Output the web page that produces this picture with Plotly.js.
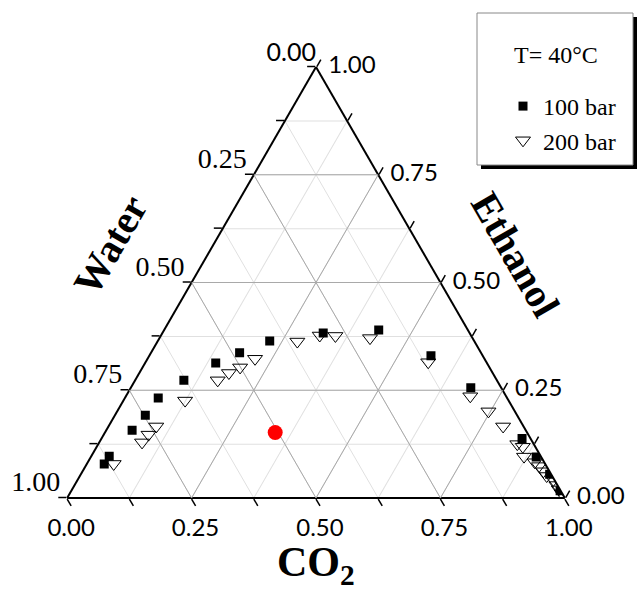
<!DOCTYPE html>
<html>
<head>
<meta charset="utf-8">
<script src="https://cdn.plot.ly/plotly-3.0.1.min.js"></script>
<style>html,body{margin:0;padding:0;background:#fff;}#chart{width:637px;height:590px;}</style>
</head>
<body>
<div id="chart"></div>
<script>
// ---- data (mole fractions) ----
const ethanol100 = [0.079, 0.097, 0.157, 0.192, 0.232, 0.273, 0.313, 0.337, 0.364, 0.383, 0.390, 0.330, 0.256, 0.138, 0.095, 0.055, 0.017];
const co2_100    = [0.035, 0.036, 0.052, 0.061, 0.067, 0.098, 0.142, 0.178, 0.225, 0.323, 0.431, 0.566, 0.683, 0.845, 0.895, 0.942, 0.982];
const water100   = [0.886, 0.867, 0.791, 0.747, 0.701, 0.629, 0.545, 0.485, 0.411, 0.294, 0.179, 0.104, 0.061, 0.017, 0.010, 0.003, 0.001];

const ethanol200 = [0.079, 0.129, 0.147, 0.166, 0.226, 0.273, 0.290, 0.303, 0.323, 0.363, 0.377, 0.376, 0.371, 0.315, 0.236, 0.201, 0.166, 0.125, 0.119, 0.096, 0.083, 0.074, 0.062, 0.051, 0.042, 0.030, 0.020, 0.011];
const co2_200    = [0.054, 0.086, 0.090, 0.096, 0.124, 0.166, 0.180, 0.196, 0.216, 0.281, 0.319, 0.351, 0.423, 0.568, 0.692, 0.746, 0.793, 0.842, 0.856, 0.870, 0.898, 0.911, 0.926, 0.938, 0.956, 0.968, 0.978, 0.988];
const water200   = [0.867, 0.785, 0.763, 0.738, 0.650, 0.561, 0.530, 0.501, 0.461, 0.356, 0.304, 0.273, 0.206, 0.117, 0.072, 0.053, 0.041, 0.033, 0.025, 0.034, 0.019, 0.015, 0.012, 0.011, 0.002, 0.002, 0.002, 0.001];

const ethanolFeed = [0.152];
const co2Feed     = [0.342];
const waterFeed   = [0.506];

const seriesNames = ['100 bar', '200 bar'];
const legendTitle = 'T= 40°C';

const tickVals   = [0, 0.125, 0.25, 0.375, 0.5, 0.625, 0.75, 0.875, 1];
const tickLabels = ['1.00', '', '0.75', '', '0.50', '', '0.25', '', '0.00'];
const majorVals  = [0, 0.25, 0.5, 0.75, 1];
const majorGrid  = [0.25, 0.5, 0.75];

// ---- traces ----
const traces = [];
const gridStyle = {color: '#a9a9a9', width: 1};
majorGrid.forEach(v => {
  traces.push({type:'scatterternary', mode:'lines', a:[v, v], b:[1 - v, 0], c:[0, 1 - v], line:gridStyle, hoverinfo:'skip', showlegend:false});
  traces.push({type:'scatterternary', mode:'lines', b:[v, v], a:[1 - v, 0], c:[0, 1 - v], line:gridStyle, hoverinfo:'skip', showlegend:false});
  traces.push({type:'scatterternary', mode:'lines', c:[v, v], a:[1 - v, 0], b:[0, 1 - v], line:gridStyle, hoverinfo:'skip', showlegend:false});
});

const serif = 'Liberation Serif, Times New Roman, serif';
const sans = 'Lato, Liberation Sans, sans-serif';

// Water tick labels along the left edge (CO2 = 0)
traces.push({
  type:'scatterternary', mode:'text', showlegend:false, hoverinfo:'skip', cliponaxis:false,
  a: majorVals, b: majorVals.map(v => 1 - v), c: majorVals.map(() => 0),
  text: majorVals.map(v => (1 - v).toFixed(2) + (v === 1 ? '' : '\u00a0')),
  textposition:'top left',
  textfont:{family: majorVals.map(v => v === 1 ? sans : serif), size: majorVals.map(v => v === 1 ? 25 : 28), color:'#000'}
});
// Ethanol tick labels along the right edge (Water = 0)
traces.push({
  type:'scatterternary', mode:'text', showlegend:false, hoverinfo:'skip', cliponaxis:false,
  a: majorVals, b: majorVals.map(() => 0), c: majorVals.map(v => 1 - v),
  text: majorVals.map(v => '\u00a0\u00a0' + v.toFixed(2)),
  textposition:'middle right',
  textfont:{family:sans, size:24, color:'#000'}
});

traces.push({
  type:'scatterternary', mode:'markers', name: seriesNames[0],
  a: ethanol100, b: water100, c: co2_100,
  marker:{symbol:'square', size:9, color:'#000'}
});
traces.push({
  type:'scatterternary', mode:'markers', name: seriesNames[1],
  a: ethanol200, b: water200, c: co2_200,
  marker:{symbol:'triangle-down-open', size:13, color:'#000', line:{width:1}}
});
traces.push({
  type:'scatterternary', mode:'markers', name:'feed', showlegend:false,
  a: ethanolFeed, b: waterFeed, c: co2Feed,
  marker:{symbol:'circle', size:15, color:'#ff0000'}
});

const W = 637, H = 590;

function axis(font, showLabels) {
  return {
    title:{text:''}, min:0,
    tickmode:'array', tickvals: tickVals, ticktext: tickLabels,
    showticklabels: showLabels,
    ticks:'outside', ticklen:8, tickwidth:1.5, tickcolor:'#000',
    showline:true, linecolor:'#000', linewidth:2,
    showgrid:true, gridcolor:'#e0e0e0', gridwidth:1,
    tickfont:{family:font, size:24, color:'#000'},
    layer:'below traces'
  };
}

const layout = {
  width:W, height:H,
  margin:{l:0, r:0, t:0, b:0},
  paper_bgcolor:'#fff',
  showlegend:true,
  ternary:{
    sum:1, bgcolor:'#fff',
    domain:{x:[67 / W, 565 / W], y:[(H - 498) / H, (H - 67) / H]},
    aaxis: axis(serif, false),
    baxis: axis(sans, true),
    caxis: axis(sans, false)
  },
  legend:{
    x: 503 / W, y: 1 - 84 / H, xanchor:'left', yanchor:'top',
    bgcolor:'rgba(0,0,0,0)', borderwidth:0,
    font:{family:serif, size:24, color:'#000'},
    itemwidth:30, tracegroupgap:0
  },
  shapes:[
    {type:'rect', xref:'paper', yref:'paper', layer:'below',
     x0:481 / W, x1:637 / W, y0:1 - 169 / H, y1:1 - 17 / H,
     fillcolor:'#000', line:{width:0}},
    {type:'rect', xref:'paper', yref:'paper', layer:'below',
     x0:477 / W, x1:633 / W, y0:1 - 165 / H, y1:1 - 13 / H,
     fillcolor:'#fff', line:{color:'#888', width:1}}
  ],
  annotations:[
    {text: legendTitle, xref:'paper', yref:'paper', x:556 / W, y:1 - 55 / H,
     xanchor:'center', yanchor:'middle', showarrow:false,
     font:{family:serif, size:24, color:'#000'}},
    {text:'<b>Water</b>', xref:'paper', yref:'paper', x:110 / W, y:1 - 245 / H,
     xanchor:'center', yanchor:'middle', showarrow:false, textangle:-60,
     font:{family:serif, size:40, color:'#000'}},
    {text:'<b>Ethanol</b>', xref:'paper', yref:'paper', x:515 / W, y:1 - 255 / H,
     xanchor:'center', yanchor:'middle', showarrow:false, textangle:60,
     font:{family:serif, size:40, color:'#000'}},
    {text:'<b>CO<sub>2</sub></b>', xref:'paper', yref:'paper', x:316 / W, y:1 - 565 / H,
     xanchor:'center', yanchor:'middle', showarrow:false,
     font:{family:serif, size:42, color:'#000'}}
  ]
};

Plotly.newPlot('chart', traces, layout, {staticPlot:true, displayModeBar:false});
</script>
</body>
</html>
